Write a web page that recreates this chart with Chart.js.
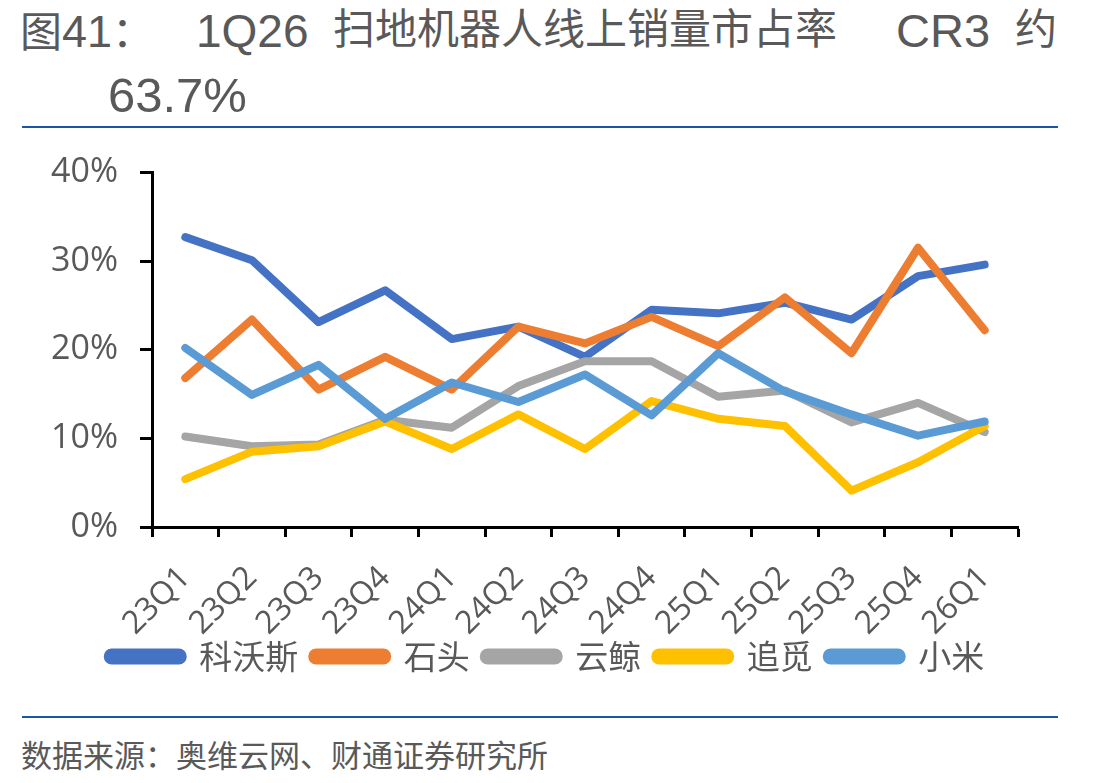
<!DOCTYPE html>
<html><head><meta charset="utf-8">
<script src="https://cdn.jsdelivr.net/npm/chart.js@4/dist/chart.umd.min.js"></script>
<style>
html,body{margin:0;padding:0;background:#fff;width:1109px;height:783px;overflow:hidden;position:relative;}
.t{position:absolute;color:#595959;white-space:nowrap;font-family:"Liberation Sans","Noto Sans CJK SC",sans-serif;line-height:1;}
.cjk{font-family:"Noto Sans CJK SC",sans-serif;}
.rule{position:absolute;left:22px;width:1036px;height:2px;background:#1a57a6;}
#wrap{position:absolute;left:0;top:130px;width:1109px;height:600px;}
canvas{display:block;}
</style></head><body>
<div class="t" style="left:20px;top:8px;font-size:45px;"><span class="cjk" style="font-size:42px;">图</span>41<span class="cjk" style="font-size:42px;">：</span></div>
<div class="t" style="left:196px;top:8px;font-size:46px;">1Q26</div>
<div class="t cjk" style="left:333px;top:5px;font-size:42px;">扫地机器人线上销量市占率</div>
<div class="t" style="left:896px;top:7px;font-size:47px;">CR3</div>
<div class="t cjk" style="left:1015px;top:5px;font-size:42px;">约</div>
<div class="t" style="left:108px;top:71px;font-size:49px;">63.7%</div>
<div class="rule" style="top:126px;"></div>
<div class="rule" style="top:716px;"></div>
<div id="wrap"><canvas id="c" width="1109" height="600"></canvas></div>
<div class="t cjk" style="left:21px;top:738px;font-size:31px;">数据来源：奥维云网、财通证券研究所</div>
<script>
const categories = ["23Q1","23Q2","23Q3","23Q4","24Q1","24Q2","24Q3","24Q4","25Q1","25Q2","25Q3","25Q4","26Q1"];
const ecovacs   = [32.7, 30.1, 23.1, 26.7, 21.2, 22.6, 19.2, 24.5, 24.1, 25.3, 23.4, 28.3, 29.6];
const roborock  = [16.8, 23.4, 15.5, 19.2, 15.5, 22.6, 20.7, 23.7, 20.4, 25.9, 19.6, 31.5, 22.2];
const narwal    = [10.2, 9.1, 9.3, 12.1, 11.2, 15.9, 18.7, 18.7, 14.7, 15.4, 11.8, 14.0, 10.7];
const dreame    = [5.4, 8.5, 9.1, 11.9, 8.8, 12.7, 8.8, 14.2, 12.2, 11.4, 4.1, 7.3, 11.4];
const xiaomi    = [20.2, 14.9, 18.3, 12.2, 16.3, 14.1, 17.2, 12.6, 19.6, 15.3, 12.7, 10.3, 11.9];
const seriesNames = ["科沃斯","石头","云鲸","追觅","小米"];
const yTicks = [0, 10, 20, 30, 40];

const colors = ["#4472C4","#ED7D31","#A5A5A5","#FFC000","#5B9BD5"];
const seriesData = [ecovacs, roborock, narwal, dreame, xiaomi];
const datasets = seriesData.map((d, i) => ({
  label: seriesNames[i], data: d,
  borderColor: colors[i], backgroundColor: colors[i],
  borderWidth: 8, pointRadius: 0, tension: 0,
  borderCapStyle: 'round', borderJoinStyle: 'round',
  yAxisID: 'y', order: 5 - i
}));
const txt = '#595959';
const shiftLegend = {
  id: 'shiftLegend',
  afterLayout(chart) {
    const l = chart.legend;
    if (l) { l.top -= 31; l.bottom -= 31; }
  }
};
new Chart(document.getElementById('c'), {
  type: 'line',
  data: { labels: categories, datasets },
  plugins: [shiftLegend],
  options: {
    responsive: false, animation: false,
    layout: { padding: { top: 0, right: 17, bottom: 16, left: 0 } },
    plugins: {
      tooltip: { enabled: false },
      legend: {
        position: 'bottom',
        labels: {
          boxWidth: 75, boxHeight: 8, useBorderRadius: true, borderRadius: 4,
          padding: 14, color: txt,
          font: { family: '"Noto Sans CJK SC", sans-serif', size: 33 },
          sort: (a, b) => a.datasetIndex - b.datasetIndex
        }
      }
    },
    scales: {
      x: {
        offset: true,
        grid: { display: true, offset: true, drawOnChartArea: false, drawTicks: true, tickLength: 10, tickWidth: 3, tickColor: '#000' },
        border: { display: true, color: '#000', width: 3 },
        ticks: { autoSkip: false, minRotation: 45, maxRotation: 45, padding: 22, color: txt,
                 font: { family: '"Open Sans", sans-serif', size: 32 } },
        afterFit(s) { s.height = 130; }
      },
      y: {
        min: 0, max: 40,
        afterBuildTicks(s) { s.ticks = yTicks.map(v => ({ value: v })); },
        grid: { display: true, drawOnChartArea: false, drawTicks: true, tickLength: 12, tickWidth: 3, tickColor: '#000' },
        border: { display: true, color: '#000', width: 3 },
        ticks: { padding: 22, color: txt, callback: v => v + '%',
                 font: { family: '"Open Sans", sans-serif', size: 34 } },
        afterFit(s) { s.width = 152; }
      },
      yr: {
        position: 'right', min: 0, max: 40,
        grid: { display: false }, border: { display: false },
        ticks: { display: false },
        afterFit(s) { s.width = 74; }
      }
    }
  }
});
</script>
</body></html>
